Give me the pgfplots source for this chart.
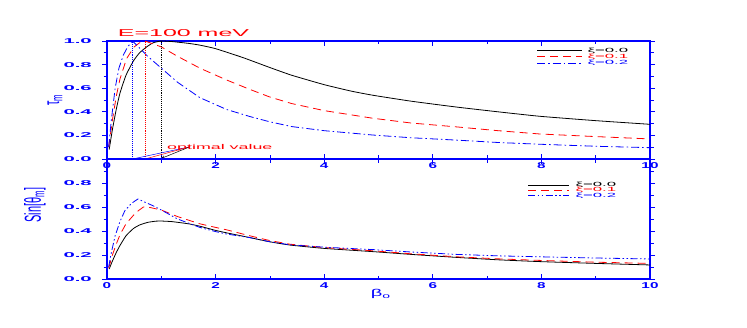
\documentclass[border=0pt]{standalone}
\usepackage{fontspec}
\setmainfont{Liberation Sans}
\usepackage{pgfplots}
\pgfplotsset{compat=1.18}
\begin{document}
\begin{tikzpicture}
\path[use as bounding box] (0pt,0pt) rectangle (747pt,327pt);
\pgfplotsset{
  panel/.style={
    scale only axis, width=543pt, anchor=south west,
    xmin=0, xmax=10, ymin=0, ymax=1,
    axis line style={blue, line width=1.1pt},
    every tick/.style={blue, line width=0.8pt},
    xtick={0,2,4,6,8,10}, minor xtick={1,3,5,7,9},
    xtick align=inside, ytick align=outside,
    major tick length=5pt, minor tick length=3.5pt,
    /pgf/number format/assume math mode=true,
    yticklabel style={/pgf/number format/fixed, /pgf/number format/fixed zerofill,
      /pgf/number format/precision=1, font=\fontsize{7}{7}\selectfont\bfseries,
      text=blue, xscale=2.9},
    xticklabel style={font=\fontsize{8.5}{8.5}\selectfont\bfseries, text=blue, xscale=1.8},
  },
}
\tikzset{
  lgtext/.style={anchor=west, inner sep=0pt, xscale=2.8, font=\fontsize{6}{6}\selectfont},
  sred/.style={red, line width=0.8pt, dash pattern=on 8pt off 5pt},
  sblue/.style={blue, line width=0.8pt, dash pattern=on 8pt off 3pt on 1.5pt off 3pt},
  sblueb/.style={blue, line width=0.8pt, dash pattern=on 7pt off 2.5pt on 1.5pt off 2.5pt on 1.5pt off 2.5pt},
}

% upper panel: tau_m
\begin{axis}[panel, at={(107pt,168pt)}, height=118pt,
  ytick={0,0.2,0.4,0.6,0.8,1.0}, minor ytick={0.1,0.3,0.5,0.7,0.9}]
\addplot[color=black, line width=0.8pt, smooth, tension=0.3] coordinates {
 (0.04,0.08) (0.1,0.25) (0.17,0.42) (0.24,0.56) (0.35,0.71) (0.485,0.83)
 (0.6,0.9) (0.73,0.95) (0.85,0.985) (1.0,1.0) (1.2,0.995) (1.5,0.98)
 (1.71,0.965) (2.0,0.935) (2.5,0.86) (3.0,0.775) (3.4,0.71) (4.0,0.63)
 (4.5,0.575) (4.9,0.54) (5.6,0.49) (6.44,0.44) (7.2,0.40) (7.97,0.362)
 (9.0,0.325) (10,0.294)};
\addplot[sred] coordinates {
 (0.03,0.10) (0.1,0.33) (0.17,0.53) (0.24,0.68) (0.36,0.85) (0.5,0.95)
 (0.6,0.985) (0.7,1.0) (0.85,0.975) (1.0,0.95) (1.3,0.87) (1.71,0.77)
 (2.2,0.67) (2.63,0.59) (3.0,0.525) (3.4,0.47) (4.0,0.41) (4.9,0.345)
 (5.6,0.305) (6.44,0.272) (7.2,0.24) (7.97,0.212) (9.0,0.19) (10,0.17)};
\addplot[sblue] coordinates {
 (0.03,0.10) (0.08,0.33) (0.15,0.6) (0.22,0.77) (0.3,0.88) (0.38,0.95)
 (0.47,1.0) (0.6,0.94) (0.75,0.87) (1.0,0.77) (1.3,0.65) (1.71,0.52)
 (2.2,0.42) (2.63,0.36) (3.0,0.315) (3.4,0.275) (4.0,0.24) (4.9,0.203)
 (5.6,0.18) (6.44,0.16) (7.2,0.14) (7.97,0.125) (9.0,0.108) (10,0.096)};
% optimal values
\addplot[blue, line width=0.9pt, densely dotted] coordinates {(0.47,0) (0.47,1)};
\addplot[red, line width=0.9pt, densely dotted] coordinates {(0.70,0) (0.70,1)};
\addplot[black, line width=0.9pt, densely dotted] coordinates {(1.0,0) (1.0,1)};
\draw[blue, line width=0.5pt] (axis cs:0.47,0) -- (axis cs:1.53,0.104);
\draw[red, line width=0.5pt] (axis cs:0.70,0) -- (axis cs:1.53,0.104);
\draw[black, line width=0.5pt, -stealth] (axis cs:1.53,0.104) -- (axis cs:1.0,0.005);
\node[red, anchor=base west, inner sep=0pt, xscale=2.55, font=\fontsize{7}{7}\selectfont]
  at (axis cs:1.1,0.08) {optimal value};
\end{axis}

% lower panel: Sin[theta_m]
\begin{axis}[panel, at={(107pt,48pt)}, height=120pt,
  ytick={0,0.2,0.4,0.6,0.8}, minor ytick={0.1,0.3,0.5,0.7,0.9}]
\addplot[color=black, line width=0.8pt, smooth, tension=0.3] coordinates {
 (0.04,0.083) (0.1,0.15) (0.17,0.22) (0.24,0.28) (0.35,0.36) (0.485,0.42)
 (0.6,0.45) (0.75,0.472) (0.9,0.482) (1.0,0.483) (1.2,0.478) (1.5,0.46)
 (1.71,0.44) (2.0,0.405) (2.2,0.385) (2.63,0.345) (3.0,0.31) (3.37,0.283) (4.0,0.255)
 (4.9,0.228) (5.6,0.205) (6.44,0.18) (7.2,0.16) (7.97,0.145) (9.0,0.13) (10,0.117)};
\addplot[sred] coordinates {
 (0.03,0.09) (0.1,0.2) (0.17,0.29) (0.24,0.37) (0.35,0.46) (0.485,0.53)
 (0.58,0.57) (0.67,0.60) (0.8,0.595) (1.0,0.575) (1.3,0.52) (1.71,0.46)
 (2.0,0.43) (2.2,0.41) (2.63,0.36) (3.0,0.32) (3.37,0.29) (4.0,0.262) (4.9,0.235)
 (5.6,0.21) (6.44,0.185) (7.2,0.168) (7.97,0.155) (9.0,0.14) (10,0.13)};
\addplot[sblueb] coordinates {
 (0.03,0.10) (0.08,0.22) (0.15,0.36) (0.24,0.48) (0.33,0.57) (0.45,0.63)
 (0.57,0.667) (0.7,0.64) (0.85,0.61) (1.0,0.575) (1.3,0.5) (1.71,0.43)
 (2.0,0.395) (2.2,0.375) (2.63,0.345) (3.0,0.31) (3.37,0.285) (4.0,0.265) (4.9,0.245)
 (5.6,0.225) (6.44,0.205) (7.2,0.193) (7.97,0.185) (9.0,0.175) (10,0.167)};
\end{axis}

% legends
\draw[black, line width=0.8pt] (537pt,276.3pt) -- (582pt,276.3pt);
\draw[sred] (537pt,270.3pt) -- (582pt,270.3pt);
\draw[sblue] (537pt,263.7pt) -- (582pt,263.7pt);
\node[lgtext] at (587pt,276.3pt) {ξ=0.0};
\node[lgtext, red] at (587pt,270.3pt) {ξ=0.1};
\node[lgtext, blue] at (587pt,263.7pt) {ξ=0.2};
\draw[black, line width=0.8pt] (528pt,142pt) -- (569pt,142pt);
\draw[sred] (528pt,136.3pt) -- (569pt,136.3pt);
\draw[sblueb] (528pt,132pt) -- (569pt,132pt);
\node[lgtext] at (575pt,142pt) {ξ=0.0};
\node[lgtext, red] at (575pt,136.8pt) {ξ=0.1};
\node[lgtext, blue] at (575pt,131.6pt) {ξ=0.2};

% titles and axis labels
\node[red, anchor=west, xscale=2.5, font=\fontsize{10}{10}\selectfont] at (109pt,294pt) {E=100 meV};
\node[blue] at (55pt,227pt) {\rotatebox{90}{\scalebox{1}[2]{\fontsize{11}{11}\selectfont τ\textsubscript{m}}}};
\node[blue] at (35pt,122pt) {\rotatebox{90}{\scalebox{1}[2.1]{\fontsize{11}{11}\selectfont Sin[θ\textsubscript{m}]}}};
\node[blue] at (381pt,33pt) {\scalebox{2}[1]{\fontsize{10}{10}\selectfont β\textsubscript{o}}};
\end{tikzpicture}
\end{document}
